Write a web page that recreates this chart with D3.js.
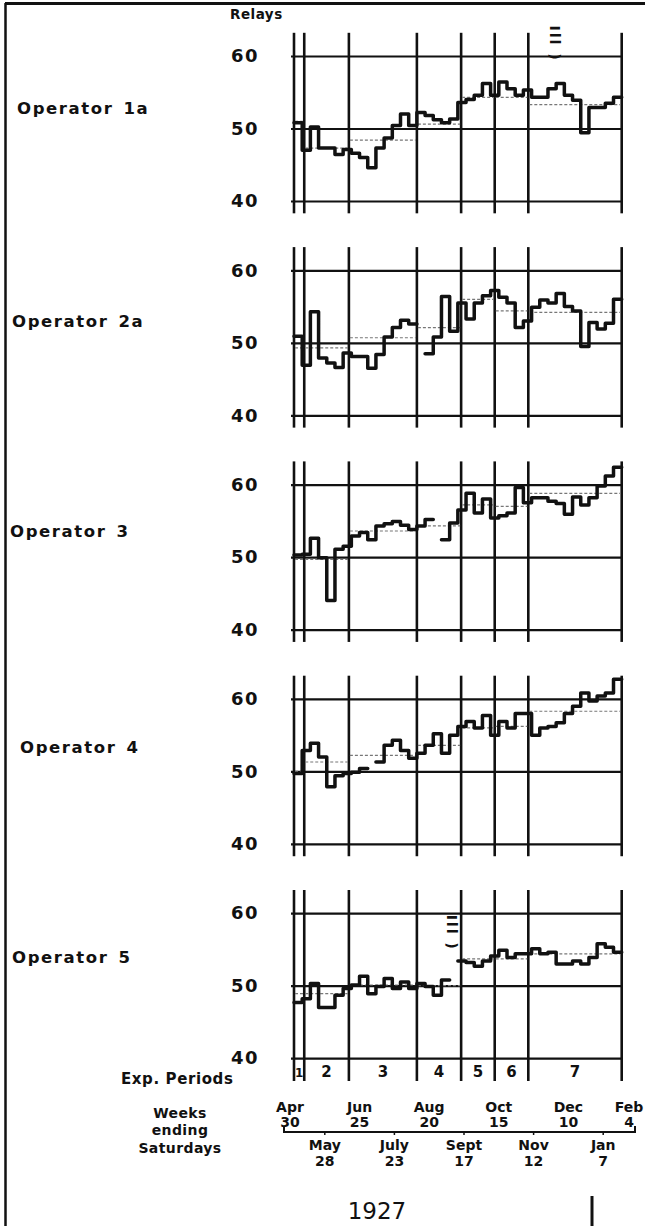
<!DOCTYPE html>
<html><head><meta charset="utf-8">
<script src="https://cdn.jsdelivr.net/npm/d3@7"></script>
<style>
body{margin:0;background:#fff}
svg{display:block}
text{font-family:"DejaVu Sans",sans-serif;fill:#111}
</style>
</head><body>
<svg id="c" width="645" height="1226"></svg>
<script>
// ---------- data ----------
const operatorNames = ["Operator", "Operator", "Operator", "Operator", "Operator"];
const operatorIds = ["1a", "2a", "3", "4", "5"];
const periods = ["1", "2", "3", "4", "5", "6", "7"];
const periodBounds = [0, 1.25, 6.7, 15, 20.4, 24.5, 28.6, 40]; // in weeks
const yTicks = [40, 50, 60];

// weekly relays output (one value per week, null = no record)
const op1a = [50.8,47.0,50.2,47.3,47.3,46.4,47.1,46.6,46.0,44.6,47.3,48.7,50.4,52.0,50.4,52.2,51.8,51.2,50.8,51.3,
              53.6,54.0,54.6,56.2,54.6,56.4,55.5,54.6,55.3,54.3,54.3,55.5,56.2,54.6,53.9,49.4,52.9,52.9,53.5,54.3];
const op2a = [50.9,46.9,54.3,47.9,47.2,46.6,48.6,48.1,48.1,46.5,48.4,50.8,52.1,53.1,52.6,null,48.5,50.8,56.4,51.6,
              55.5,53.3,55.5,56.5,57.2,56.3,55.5,52.1,53.0,54.9,55.9,55.5,56.8,55.0,54.4,49.5,52.8,51.9,52.7,56.0];
const op3  = [50.3,50.4,52.6,49.9,44.0,51.1,51.5,52.9,53.4,52.4,54.3,54.6,54.9,54.4,53.8,54.3,55.2,null,52.4,54.7,
              56.5,58.8,56.1,58.0,55.4,55.7,56.1,59.6,57.5,58.2,58.2,57.7,57.4,55.9,58.3,57.2,58.2,59.8,61.2,62.4];
const op4  = [49.7,52.9,53.9,52.0,47.9,49.4,49.7,49.9,50.4,null,51.3,53.6,54.3,52.9,51.8,52.5,53.6,55.2,52.5,55.0,
              56.2,56.9,56.0,57.7,55.0,56.9,56.0,58.0,58.0,55.0,56.0,56.2,56.7,58.0,59.0,60.8,59.7,60.4,60.8,62.7];
const op5  = [47.7,48.2,50.3,47.0,47.0,48.7,49.6,50.1,51.3,48.9,49.9,51.0,49.6,50.5,49.6,50.3,49.9,48.7,50.8,null,
              53.4,53.2,52.7,53.4,54.1,54.9,53.9,54.4,54.4,55.1,54.4,54.6,53.0,53.0,53.4,53.0,53.9,55.8,55.3,54.6];
const series = [op1a, op2a, op3, op4, op5];

// period averages (dashed lines), one per experimental period
const avg1a = [51.0, 47.3, 48.4, 50.6, 54.3, 54.3, 53.3];
const avg2a = [49.3, 49.3, 50.7, 52.1, 56.0, 54.4, 54.2];
const avg3  = [49.7, 49.7, 53.6, 54.3, 57.2, 57.0, 58.8];
const avg4  = [50.0, 51.3, 52.2, 53.6, 56.0, 56.2, 58.3];
const avg5  = [48.9, 48.9, 50.1, 50.0, 53.7, 53.7, 54.4];
const averages = [avg1a, avg2a, avg3, avg4, avg5];

// notes written on the chart
const notes = [{op: 0, week: 31.9, value: 64.2, text: "Ill )"}, {op: 4, week: 19.3, value: 59.8, text: "Ill )"}];

// week-ending Saturdays axis
const topDates = [new Date(1927,3,30), new Date(1927,5,25), new Date(1927,7,20), new Date(1927,9,15), new Date(1927,11,10), new Date(1928,1,4)];
const topMonths = ["Apr", "Jun", "Aug", "Oct", "Dec", "Feb"];
const topDays = ["30", "25", "20", "15", "10", "4"];
const botDates = [new Date(1927,4,28), new Date(1927,6,23), new Date(1927,8,17), new Date(1927,10,12), new Date(1928,0,7)];
const botMonths = ["May", "July", "Sept", "Nov", "Jan"];
const botDays = ["28", "23", "17", "12", "7"];

// ---------- layout ----------
const svg = d3.select("#c");
const ink = "#111";
const bold = sel => sel.style("font-weight", "bold");
const x = d3.scaleLinear().domain([0, 40]).range([294, 621.7]);
const panelTop60 = i => 56 + i * 214.3;

// frame
svg.append("line").attr("x1", 5).attr("x2", 645).attr("y1", 3.5).attr("y2", 3.5).attr("stroke", ink).attr("stroke-width", 3);
svg.append("line").attr("x1", 5.5).attr("x2", 5.5).attr("y1", 3).attr("y2", 1226).attr("stroke", ink).attr("stroke-width", 2.5);

svg.append("text").attr("x", 230).attr("y", 19).attr("font-size", 13.5).attr("letter-spacing", 0.5).call(bold).text("Relays");

const labelX = [17, 12, 10, 20, 12];
const labelY = [114, 327, 537, 753, 963];

series.forEach((data, i) => {
  const y60 = panelTop60(i);
  const y = d3.scaleLinear().domain([40, 60]).range([y60 + 145, y60]);
  const g = svg.append("g");

  // horizontal grid + tick labels with a D3 axis
  const ax = d3.axisLeft(y).tickValues(yTicks).tickSize(-(x(40) - x(0) + 3)).tickPadding(32).tickFormat(d3.format("d"));
  const ag = g.append("g").attr("transform", `translate(${x(0) - 3},0)`).call(ax);
  ag.select(".domain").remove();
  ag.selectAll(".tick line").attr("stroke", ink).attr("stroke-width", 2.2);
  ag.selectAll(".tick text").attr("font-size", 18).attr("letter-spacing", 1.5)
    .style("font-family", '"DejaVu Sans",sans-serif').style("font-weight", "bold").attr("fill", ink);

  // vertical period lines
  const yBottom = i === 4 ? 1081 : y(38.3);
  g.selectAll(".vl").data(periodBounds).join("line")
    .attr("x1", d => x(d)).attr("x2", d => x(d))
    .attr("y1", y(63.2)).attr("y2", yBottom)
    .attr("stroke", ink).attr("stroke-width", 2.6);

  // period average dashed lines
  const av = averages[i];
  g.selectAll(".av").data(av).join("line")
    .attr("x1", (d, k) => x(periodBounds[k]) + 1).attr("x2", (d, k) => x(periodBounds[k + 1]) - 1)
    .attr("y1", d => y(d)).attr("y2", d => y(d))
    .attr("stroke", "#777").attr("stroke-width", 1.2).attr("stroke-dasharray", "3,2");

  // stepped weekly line
  const pts = [];
  data.forEach((v, w) => { pts.push({w: w, v: v}); pts.push({w: w + 1, v: v}); if (v === null || (data[w + 1] === null)) pts.push({w: w + 1, v: null}); });
  const line = d3.line().defined(d => d.v !== null).x(d => x(d.w)).y(d => y(d.v));
  g.append("path").attr("d", line(pts)).attr("fill", "none").attr("stroke", ink)
    .attr("stroke-width", 3.5).attr("stroke-linejoin", "round").attr("stroke-linecap", "round");

  // operator label
  const t = svg.append("text").attr("x", labelX[i]).attr("y", labelY[i]).attr("font-size", 16.5).attr("letter-spacing", 1.6).call(bold);
  t.append("tspan").text(operatorNames[i]);
  t.append("tspan").attr("dx", 10).text(operatorIds[i]);
});

// notes
notes.forEach(n => {
  const y60 = panelTop60(n.op);
  const y = d3.scaleLinear().domain([40, 60]).range([y60 + 145, y60]);
  svg.append("text").attr("transform", `translate(${x(n.week) - 5},${y(n.value)}) rotate(90)`)
    .attr("font-size", 14).attr("letter-spacing", 2).style("font-weight", "bold").text(n.text);
});

// experimental periods row
svg.append("text").attr("x", 121).attr("y", 1084).attr("font-size", 15).attr("letter-spacing", 0.6).call(bold).text("Exp. Periods");
svg.selectAll(".pl").data(periods).join("text")
  .attr("x", (d, k) => (x(periodBounds[k]) + x(periodBounds[k + 1])) / 2)
  .attr("y", 1077).attr("text-anchor", "middle").attr("font-size", (d, k) => k === 0 ? 12 : 15).call(bold).text(d => d);

// weeks ending Saturdays
[["Weeks", 1118], ["ending", 1135], ["Saturdays", 1153]].forEach(([s, yy]) =>
  svg.append("text").attr("x", 180).attr("y", yy).attr("text-anchor", "middle").attr("font-size", 14).attr("letter-spacing", 0.4).call(bold).text(s));

const xt = d3.scaleTime().domain([topDates[0], topDates[topDates.length - 1]]).range([290, 638]);
const lastIdx = topDates.length - 1;
const tx = (d, k) => k === lastIdx ? Math.min(xt(d), 629) : xt(d);
svg.selectAll(".tm").data(topDates).join("text").attr("x", tx).attr("y", 1112).attr("text-anchor", "middle").attr("font-size", 14).call(bold).text((d, k) => topMonths[k]);
svg.selectAll(".td").data(topDates).join("text").attr("x", tx).attr("y", 1127).attr("text-anchor", "middle").attr("font-size", 14).call(bold).text((d, k) => topDays[k]);
svg.selectAll(".bm").data(botDates).join("text").attr("x", d => xt(d)).attr("y", 1150).attr("text-anchor", "middle").attr("font-size", 14).call(bold).text((d, k) => botMonths[k]);
svg.selectAll(".bd").data(botDates).join("text").attr("x", d => xt(d)).attr("y", 1166).attr("text-anchor", "middle").attr("font-size", 14).call(bold).text((d, k) => botDays[k]);
// bracket line
const bx0 = xt(topDates[0]) - 6, bx1 = xt(topDates[lastIdx]) - 3;
svg.append("path").attr("d", `M${bx0},1126 L${bx0},1132 L${bx1},1132 L${bx1},1126`).attr("fill", "none").attr("stroke", ink).attr("stroke-width", 2);
svg.selectAll(".bt").data(botDates).join("line").attr("x1", d => xt(d)).attr("x2", d => xt(d)).attr("y1", 1132).attr("y2", 1135).attr("stroke", ink).attr("stroke-width", 1.5);

// year
svg.append("text").attr("x", 377).attr("y", 1219).attr("text-anchor", "middle").attr("font-size", 23).style("font-weight", "normal").text("1927");
svg.append("line").attr("x1", 592).attr("x2", 592).attr("y1", 1196).attr("y2", 1226).attr("stroke", ink).attr("stroke-width", 3);
</script>
</body></html>
